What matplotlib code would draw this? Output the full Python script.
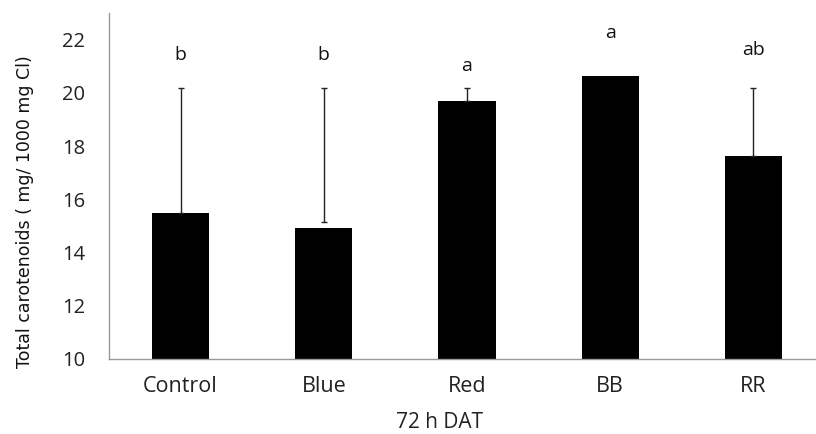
import matplotlib.pyplot as plt

treatments = ['Control', 'Blue', 'Red', 'BB', 'RR']
carotenoids = [15.47, 14.92, 19.70, 20.63, 17.63]
# error bars as drawn: lower end and upper end (BB has none)
err_low = [15.47, 15.15, 19.70, None, 17.63]
err_high = [20.18, 20.18, 20.18, None, 20.18]
letters = ['b', 'b', 'a', 'a', 'ab']
letter_y = [21.43, 21.43, 20.99, 22.24, 21.62]

plt.rcParams['font.family'] = ['Open Sans', 'DejaVu Sans']

fig = plt.figure(figsize=(8.16, 4.34), dpi=100)
ax = fig.add_axes([109 / 816, 75 / 434, 716 / 816, 346 / 434])

x = list(range(len(treatments)))
ax.bar(x, [v - 10 for v in carotenoids], bottom=10, width=0.4, color='black', zorder=2)

for i in x:
    if err_low[i] is None:
        continue
    ax.errorbar(i, err_low[i], yerr=[[0], [err_high[i] - err_low[i]]],
                fmt='none', ecolor='#222222', elinewidth=1.0, capsize=2.5,
                capthick=1.0, zorder=3)

for i, t in enumerate(letters):
    ax.text(i, letter_y[i], t, ha='center', va='center', fontsize=14, color='#111111')

ax.set_xlim(-0.5, len(treatments) - 0.5)
ax.set_ylim(10, 23)
ax.set_yticks([10, 12, 14, 16, 18, 20, 22])
ax.set_xticks(x)
ax.set_xticklabels(treatments)
ax.tick_params(axis='both', length=0, labelsize=14.5, colors='#222222')
ax.tick_params(axis='x', pad=12, labelsize=15.5)
ax.tick_params(axis='y', pad=17)

for s in ['top', 'right']:
    ax.spines[s].set_visible(False)
for s in ['left', 'bottom']:
    ax.spines[s].set_color('#999999')
    ax.spines[s].set_linewidth(1.0)

fig.text(440 / 816, 1 - 423 / 434, '72 h DAT', fontsize=15, color='#222222',
         ha='center', va='center')
fig.text(25 / 816, 1 - 212 / 434, 'Total carotenoids ( mg/ 1000 mg Cl)', fontsize=12.5,
         rotation=90, ha='center', va='center', color='#111111',
         family=['Liberation Sans Narrow', 'DejaVu Sans'])

plt.savefig('out.png', dpi=100)
